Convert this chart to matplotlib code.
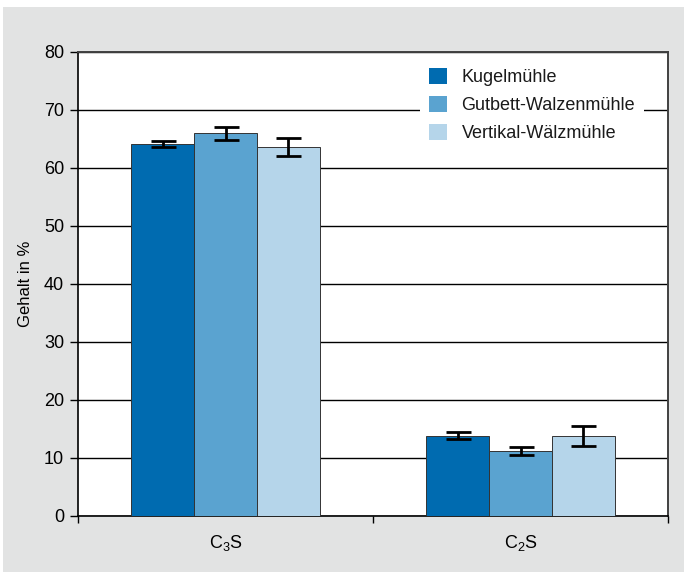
import matplotlib
matplotlib.use("Agg")
import matplotlib.pyplot as plt
from matplotlib.patches import Rectangle
import numpy as np

categories = ["C$_3$S", "C$_2$S"]
series = ["Kugelmühle", "Gutbett-Walzenmühle", "Vertikal-Wälzmühle"]
values = {
    "Kugelmühle": [64.1, 13.8],
    "Gutbett-Walzenmühle": [66.0, 11.2],
    "Vertikal-Wälzmühle": [63.6, 13.8],
}
errors = {
    "Kugelmühle": [0.5, 0.6],
    "Gutbett-Walzenmühle": [1.1, 0.7],
    "Vertikal-Wälzmühle": [1.6, 1.8],
}
colors = ["#006bb0", "#5aa3d0", "#b5d5ea"]
yticks = [0, 10, 20, 30, 40, 50, 60, 70, 80]

plt.rcParams['font.family'] = ['Liberation Sans Narrow', 'Liberation Sans', 'DejaVu Sans']
plt.rcParams['font.stretch'] = 'condensed'
plt.rcParams['mathtext.fontset'] = 'custom'
plt.rcParams['mathtext.rm'] = 'Liberation Sans'
plt.rcParams['mathtext.default'] = 'rm'
plt.rcParams['text.color'] = '#1a1a1a'

fig = plt.figure(figsize=(6.84, 5.72), dpi=100, facecolor="white")
fig.patches.append(Rectangle((3/684, 0), 1, 1 - 7/572, transform=fig.transFigure,
                             facecolor="#e2e3e3", edgecolor="none", zorder=-10))
ax = fig.add_axes([78/684, (572-516)/572, (668-78)/684, (516-52)/572])
ax.set_facecolor("white")

x = np.arange(len(categories))
w = 0.213
for i, s in enumerate(series):
    pos = x + (i - 1) * w
    ax.bar(pos, values[s], width=w, color=colors[i], edgecolor="#333333",
           linewidth=0.7, label=s, zorder=3)
    ax.errorbar(pos, values[s], yerr=errors[s], fmt="none", ecolor="black",
                elinewidth=2.0, capsize=9, capthick=2.0, zorder=4)

ax.set_xlim(-0.5, 1.5)
ax.set_ylim(0, 80)
ax.set_yticks(yticks)
ax.set_yticklabels([str(t) for t in yticks], fontsize=13)
ax.yaxis.grid(True, color="black", linewidth=1.0, zorder=0)
ax.set_axisbelow(True)
ax.set_xticks([-0.5, 0.5, 1.5])
ax.set_xticklabels([])
ax.set_xticks(x, minor=True)
ax.set_xticklabels(categories, minor=True, fontsize=13)
ax.tick_params(axis="x", which="minor", length=0, pad=12)
ax.tick_params(axis="x", which="major", length=5, width=1, direction="out")
ax.tick_params(axis="y", length=6, width=1, direction="out", pad=4)
ax.set_ylabel("Gehalt in %", fontsize=12, labelpad=8)

for sp in ["left", "bottom"]:
    ax.spines[sp].set_color("black")
    ax.spines[sp].set_linewidth(1.2)
for sp in ["top", "right"]:
    ax.spines[sp].set_color("#404040")
    ax.spines[sp].set_linewidth(1.4)

leg = ax.legend(loc="upper right", bbox_to_anchor=(0.975, 1.005), frameon=True,
                facecolor="white", edgecolor="none", framealpha=1, fontsize=13,
                handlelength=1.0, handleheight=1.0, handletextpad=0.8,
                labelspacing=0.55, borderpad=0.5)
for h in leg.legend_handles:
    h.set_edgecolor("none")

fig.savefig("out.png", dpi=100, facecolor=fig.get_facecolor())
